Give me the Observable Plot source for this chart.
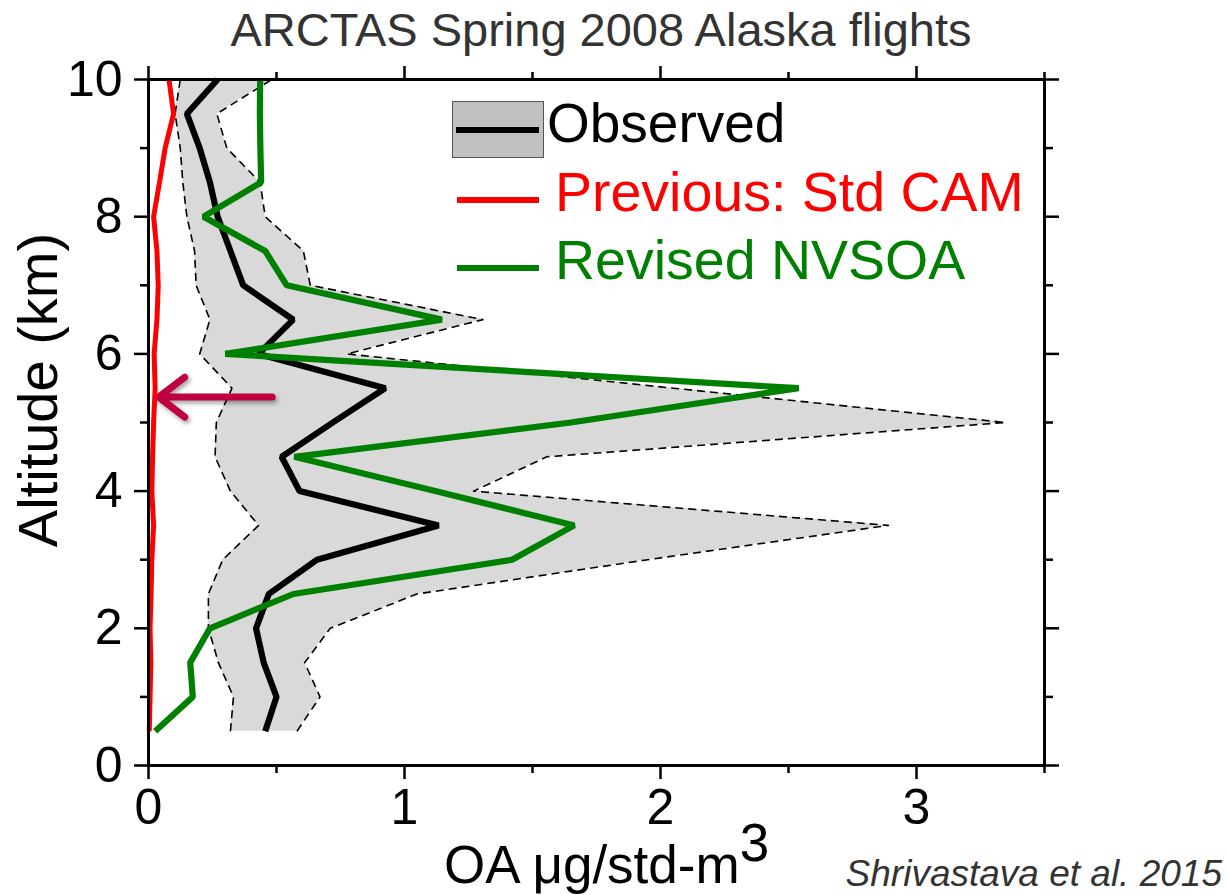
<!DOCTYPE html>
<html><head><meta charset="utf-8">
<script src="https://cdn.jsdelivr.net/npm/d3@7"></script>
<script src="https://cdn.jsdelivr.net/npm/@observablehq/plot@0.6"></script>
<style>
html,body{margin:0;padding:0;background:#fff;}
#wrap{position:relative;width:1227px;height:895px;font-family:"Liberation Sans",Arial,sans-serif;overflow:hidden;background:#fff;}
#wrap svg{position:absolute;left:0;top:0;}
.t{position:absolute;white-space:nowrap;line-height:1;}
.sw{position:absolute;}
g[aria-label="arrow"]{filter:drop-shadow(2px 3px 2px rgba(0,0,0,0.35));}
</style></head><body><div id="wrap"></div>
<script>
// Altitude levels (km)
const altitude = [0.5, 1, 1.5, 2, 2.5, 3, 3.5, 4, 4.5, 5, 5.5, 6, 6.5, 7, 7.5, 8, 8.5, 9, 9.5, 10];
// Observed mean OA (µg/std-m3)
const observedMean = [0.456, 0.50, 0.45, 0.42, 0.47, 0.658, 1.133, 0.59, 0.52, 0.72, 0.925, 0.43, 0.565, 0.37, 0.32, 0.27, 0.24, 0.20, 0.15, 0.27];
// Observed spread: lower and upper dashed bounds
const observedLow = [0.32, 0.332, 0.273, 0.234, 0.234, 0.29, 0.43, 0.32, 0.26, 0.265, 0.326, 0.20, 0.24, 0.186, 0.18, 0.15, 0.134, 0.124, 0.104, 0.124];
const observedHigh = [0.58, 0.67, 0.61, 0.71, 1.048, 1.95, 2.89, 1.27, 1.556, 3.347, 2.05, 0.775, 1.306, 0.632, 0.605, 0.456, 0.436, 0.306, 0.267, 0.482];
// Previous: Std CAM
const previousStdCAM = [0.003, 0.006, 0.009, 0.006, 0.01, 0.013, 0.02, 0.013, 0.016, 0.02, 0.026, 0.022, 0.033, 0.038, 0.033, 0.02, 0.043, 0.065, 0.098, 0.08];
// Revised NVSOA
const revisedNVSOA = [0.026, 0.173, 0.163, 0.24, 0.566, 1.42, 1.663, 1.12, 0.57, 1.65, 2.54, 0.30, 1.146, 0.54, 0.456, 0.215, 0.44, 0.437, 0.435, 0.436];
// Ticks
const xMajorTicks = [0, 1, 2, 3];
const xMinorTicks = [0.5, 1.5, 2.5, 3.5];
const yMajorTicks = [0, 2, 4, 6, 8, 10];
const yMinorTicks = [1, 3, 5, 7, 9];
// Annotation arrow (data units)
const arrowNote = [{x1: 0.483, x2: 0.04, y: 5.37}];

const rows = altitude.map((a, i) => ({
  alt: a, obs: observedMean[i], lo: observedLow[i], hi: observedHigh[i],
  prev: previousStdCAM[i], rev: revisedNVSOA[i]
}));

const tickStyle = {strokeWidth: 2.5, label: null};
const chart = Plot.plot({
  width: 1227, height: 895,
  marginLeft: 148, marginRight: 183, marginTop: 79, marginBottom: 130,
  x: {domain: [0, 3.5]},
  y: {domain: [0, 10]},
  style: {fontFamily: "Liberation Sans, Arial, sans-serif", fontSize: "50px", color: "black", background: "transparent", overflow: "visible"},
  marks: [
    Plot.areaX(rows, {y: "alt", x1: "lo", x2: "hi", fill: "#d9d9d9"}),
    Plot.line(rows, {x: "lo", y: "alt", stroke: "black", strokeWidth: 1.6, strokeDasharray: "8,5", strokeLinecap: "butt"}),
    Plot.line(rows, {x: "hi", y: "alt", stroke: "black", strokeWidth: 1.6, strokeDasharray: "8,5", strokeLinecap: "butt"}),
    Plot.line(rows, {x: "prev", y: "alt", stroke: "#ff0000", strokeWidth: 5, strokeLinecap: "butt", strokeLinejoin: "miter"}),
    Plot.line(rows, {x: "obs", y: "alt", stroke: "black", strokeWidth: 6.2, strokeLinecap: "butt", strokeLinejoin: "miter"}),
    Plot.line(rows, {x: "rev", y: "alt", stroke: "#008000", strokeWidth: 6.2, strokeLinecap: "butt", strokeLinejoin: "miter"}),
    Plot.arrow(arrowNote, {x1: "x1", x2: "x2", y1: "y", y2: "y", stroke: "#c1003f", strokeWidth: 7, headLength: 7, headAngle: 75, strokeLinecap: "round", strokeLinejoin: "round"}),
    Plot.frame({strokeWidth: 3}),
    Plot.axisX({...tickStyle, anchor: "bottom", ticks: xMajorTicks, tickSize: 14, tickPadding: 9, fontSize: 50, tickFormat: d => String(d)}),
    Plot.axisX({...tickStyle, anchor: "bottom", ticks: xMinorTicks, tickSize: 8, tickFormat: () => ""}),
    Plot.axisX({...tickStyle, anchor: "top", ticks: xMajorTicks, tickSize: 14, tickFormat: () => ""}),
    Plot.axisX({...tickStyle, anchor: "top", ticks: xMinorTicks, tickSize: 8, tickFormat: () => ""}),
    Plot.axisY({...tickStyle, anchor: "left", ticks: yMajorTicks, tickSize: 14, tickPadding: 12, fontSize: 50, tickFormat: d => String(d)}),
    Plot.axisY({...tickStyle, anchor: "left", ticks: yMinorTicks, tickSize: 8, tickFormat: () => ""}),
    Plot.axisY({...tickStyle, anchor: "right", ticks: yMajorTicks, tickSize: 14, tickFormat: () => ""}),
    Plot.axisY({...tickStyle, anchor: "right", ticks: yMinorTicks, tickSize: 8, tickFormat: () => ""})
  ]
});

const wrap = document.getElementById("wrap");
wrap.appendChild(chart);

function addText(html, css) {
  const d = document.createElement("div");
  d.className = "t";
  d.innerHTML = html;
  Object.assign(d.style, css);
  wrap.appendChild(d);
  return d;
}
function addSwatch(css) {
  const d = document.createElement("div");
  d.className = "sw";
  Object.assign(d.style, css);
  wrap.appendChild(d);
}

// Title
addText("ARCTAS Spring 2008 Alaska flights", {left: "0px", width: "1202px", textAlign: "center", top: "6px", fontSize: "47px", color: "#333"});
// Y axis title
addText("Altitude (km)", {left: "38px", top: "390px", fontSize: "56px", color: "#000", transform: "translate(-50%,-50%) rotate(-90deg)"});
// X axis title
addText('OA μg/std-m<span style="position:relative;top:-0.42em">3</span>', {left: "444px", top: (883 - 0.8465 * 53) + "px", fontSize: "53px", color: "#000"});
// Caption
addText("Shrivastava et al. 2015", {right: "5px", top: (886 - 0.8465 * 37) + "px", fontSize: "37px", fontStyle: "italic", color: "#333"});

// Legend
addSwatch({left: "452px", top: "101px", width: "92px", height: "57px", background: "#c0c0c0", border: "1.5px solid #555", boxSizing: "border-box"});
addSwatch({left: "456px", top: "127px", width: "83px", height: "6px", background: "#000"});
addText("Observed", {left: "547px", top: (143 - 0.8465 * 55) + "px", fontSize: "55px", color: "#000"});
addSwatch({left: "457px", top: "197px", width: "82px", height: "6px", background: "#ff0000"});
addText("Previous: Std CAM", {left: "555px", top: (212 - 0.8465 * 55.5) + "px", fontSize: "55.5px", color: "#ff0000"});
addSwatch({left: "457px", top: "265px", width: "82px", height: "6px", background: "#008000"});
addText("Revised NVSOA", {left: "555px", top: (280 - 0.8465 * 55.5) + "px", fontSize: "55.5px", color: "#008000"});
</script>
</body></html>
